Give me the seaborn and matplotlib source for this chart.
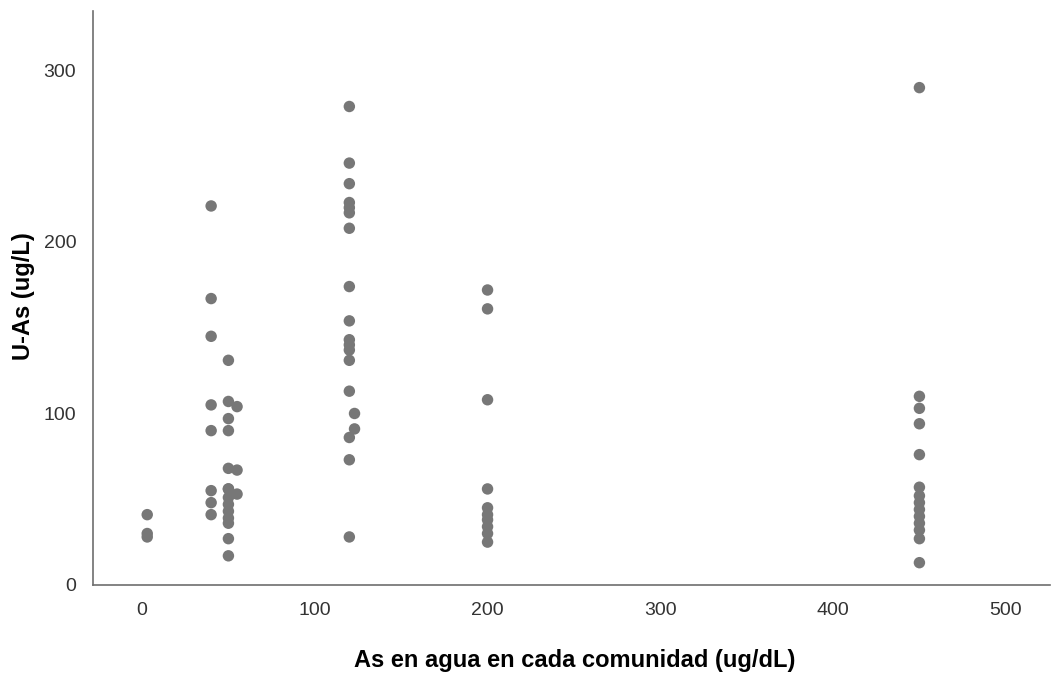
import matplotlib
matplotlib.use("Agg")
import matplotlib.pyplot as plt
import seaborn as sns
import pandas as pd

# Arsenic in community water (ug/dL) and urinary arsenic per person (ug/L)
agua_3 = [3, 3, 3]
uas_3 = [41, 30, 28]

agua_40 = [40] * 8
uas_40 = [221, 167, 145, 105, 90, 55, 48, 41]

agua_50 = [50] * 14
uas_50 = [131, 107, 97, 90, 68, 56, 51, 47, 43, 39, 36, 27, 17, 56]

agua_55 = [55, 55, 55]
uas_55 = [104, 67, 53]

agua_120 = [120] * 17
uas_120 = [279, 246, 234, 223, 220, 217, 208, 174, 154, 143, 140, 137, 131, 113, 86, 73, 28]

agua_123 = [123, 123]
uas_123 = [100, 91]

agua_200 = [200] * 10
uas_200 = [172, 161, 108, 56, 45, 41, 38, 34, 30, 25]

agua_450 = [450] * 14
uas_450 = [290, 110, 103, 94, 76, 57, 52, 48, 44, 40, 36, 32, 27, 13]

df = pd.DataFrame({
    "agua": agua_3 + agua_40 + agua_50 + agua_55 + agua_120 + agua_123 + agua_200 + agua_450,
    "uas": uas_3 + uas_40 + uas_50 + uas_55 + uas_120 + uas_123 + uas_200 + uas_450,
})

x_ticks = [0, 100, 200, 300, 400, 500]
y_ticks = [0, 100, 200, 300]

sns.set_style("white")
plt.rcParams["font.family"] = ["Liberation Sans", "DejaVu Sans"]

fig = plt.figure(figsize=(10.53, 6.73), dpi=100)
ax = fig.add_axes([0.0883, 0.1308, 0.9087, 0.8529])

sns.scatterplot(data=df, x="agua", y="uas", ax=ax, color="#777777",
                s=68, linewidth=0, edgecolor="none", legend=False)

ax.set_xlim(-28.4, 525.5)
ax.set_ylim(1.7, 334.7)
ax.set_xticks(x_ticks)
ax.set_yticks(y_ticks)
ax.tick_params(axis="both", length=0, labelsize=14, labelcolor="#333333")
ax.tick_params(axis="x", pad=12)
ax.tick_params(axis="y", pad=12)

for side in ["top", "right"]:
    ax.spines[side].set_visible(False)
for side in ["left", "bottom"]:
    ax.spines[side].set_color("#6e6e6e")
    ax.spines[side].set_linewidth(1.2)

ax.set_xlabel("As en agua en cada comunidad (ug/dL)", fontsize=17,
              fontweight="bold", color="black")
ax.set_ylabel("U-As (ug/L)", fontsize=17, fontweight="bold", color="black")
ax.xaxis.set_label_coords(0.503, -0.112)
ax.yaxis.set_label_coords(-0.061, 0.503)

fig.savefig("out.png", dpi=100)
